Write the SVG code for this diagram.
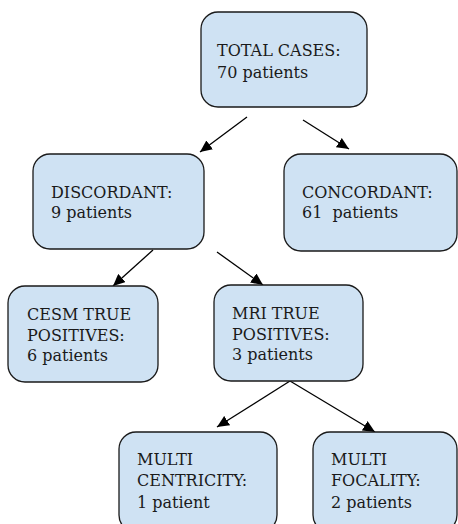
<svg xmlns="http://www.w3.org/2000/svg" width="458" height="524" viewBox="0 0 458 524">
<defs>
<style>
.box{fill:#cfe2f3;stroke:#1a1a1a;stroke-width:1.3}
.t{font-size:16px;fill:#1a1a1a}
.c{stroke:#000;stroke-width:1.3;fill:none;marker-end:url(#ah)}
</style>
<marker id="ah" markerUnits="userSpaceOnUse" markerWidth="13" markerHeight="11" refX="12" refY="5.5" orient="auto">
<path d="M0,0 L12,5.5 L0,11 Z" fill="#000"/>
</marker>
</defs>
<rect width="458" height="524" fill="#fff"/>
<g id="connectors">
<line class="c" x1="247" y1="117" x2="200" y2="152"/>
<line class="c" x1="303" y1="120" x2="349" y2="149"/>
<line class="c" x1="153" y1="250" x2="113" y2="286"/>
<line class="c" x1="217" y1="252" x2="263" y2="285"/>
<line class="c" x1="290" y1="381" x2="217" y2="427"/>
<line class="c" x1="290" y1="381" x2="375" y2="432"/>
</g>
<g font-family="'DejaVu Serif', 'Liberation Serif', serif">
<g id="total">
<rect class="box" x="201" y="12" width="166" height="95" rx="17"/>
<text class="t" x="217" y="56">TOTAL CASES:</text>
<text class="t" x="217" y="78">70 patients</text>
</g>
<g id="discordant">
<rect class="box" x="33" y="154" width="171" height="95" rx="17"/>
<text class="t" x="51" y="198">DISCORDANT:</text>
<text class="t" x="51" y="218">9 patients</text>
</g>
<g id="concordant">
<rect class="box" x="284" y="154" width="173" height="97" rx="17"/>
<text class="t" x="302" y="198">CONCORDANT:</text>
<text class="t" x="302" y="218" style="white-space:pre">61  patients</text>
</g>
<g id="cesm">
<rect class="box" x="8" y="286" width="150" height="96" rx="17"/>
<text class="t" x="27" y="320">CESM TRUE</text>
<text class="t" x="27" y="341">POSITIVES:</text>
<text class="t" x="27" y="361">6 patients</text>
</g>
<g id="mri">
<rect class="box" x="214" y="285" width="149" height="96" rx="17"/>
<text class="t" x="232" y="319">MRI TRUE</text>
<text class="t" x="232" y="340">POSITIVES:</text>
<text class="t" x="232" y="360">3 patients</text>
</g>
<g id="multicentricity">
<rect class="box" x="119" y="432" width="158" height="100" rx="17"/>
<text class="t" x="137" y="465">MULTI</text>
<text class="t" x="137" y="486">CENTRICITY:</text>
<text class="t" x="137" y="508">1 patient</text>
</g>
<g id="multifocality">
<rect class="box" x="313" y="432" width="144" height="100" rx="17"/>
<text class="t" x="331" y="465">MULTI</text>
<text class="t" x="331" y="486">FOCALITY:</text>
<text class="t" x="331" y="508">2 patients</text>
</g>
</g>
</svg>
